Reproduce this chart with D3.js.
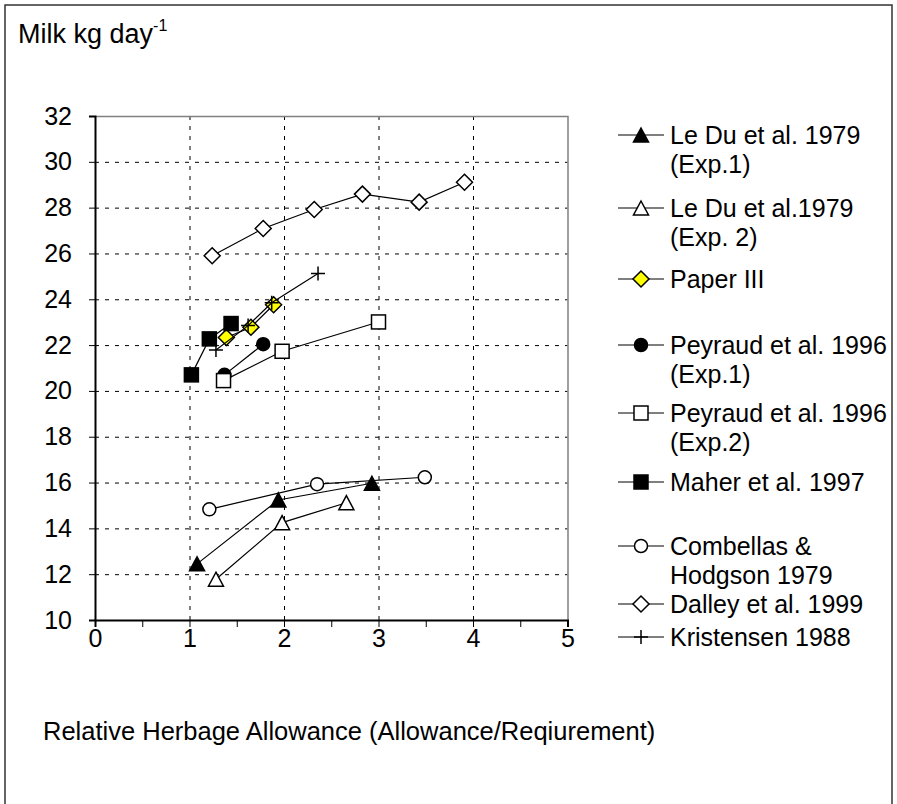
<!DOCTYPE html>
<html>
<head>
<meta charset="utf-8">
<script src="https://cdn.jsdelivr.net/npm/d3@7"></script>
<style>
  html, body { margin: 0; padding: 0; background: #fff; }
  svg { display: block; font-family: "Liberation Sans", Arial, sans-serif; }
</style>
</head>
<body>
<svg id="chart" width="897" height="804"></svg>
<script>
// Milk yield vs relative herbage allowance, several published studies
const xTicks = [0, 1, 2, 3, 4, 5];
const yTicks = [10, 12, 14, 16, 18, 20, 22, 24, 26, 28, 30, 32];

const leDu1X = [1.08, 1.94, 2.93];
const leDu1Y = [12.45, 15.24, 15.97];
const leDu2X = [1.28, 1.98, 2.66];
const leDu2Y = [11.78, 14.25, 15.12];
const paper3X = [1.39, 1.65, 1.89];
const paper3Y = [22.33, 22.78, 23.76];
const peyraud1X = [1.37, 1.78];
const peyraud1Y = [20.70, 22.04];
const peyraud2X = [1.36, 1.98, 3.00];
const peyraud2Y = [20.45, 21.73, 23.01];
const maherX = [1.02, 1.21, 1.44];
const maherY = [20.70, 22.27, 22.94];
const combellasX = [1.21, 2.35, 3.49];
const combellasY = [14.83, 15.93, 16.23];
const dalleyX = [1.24, 1.78, 2.32, 2.83, 3.43, 3.91];
const dalleyY = [25.90, 27.09, 27.92, 28.59, 28.24, 29.11];
const kristensenX = [1.28, 1.62, 1.87, 2.36];
const kristensenY = [21.79, 22.85, 23.85, 25.12];

const seriesNames = [
  ["Le Du et al. 1979", "(Exp.1)"],
  ["Le Du et al.1979", "(Exp. 2)"],
  ["Paper III"],
  ["Peyraud et al. 1996", "(Exp.1)"],
  ["Peyraud et al. 1996", "(Exp.2)"],
  ["Maher et al. 1997"],
  ["Combellas &", "Hodgson 1979"],
  ["Dalley et al. 1999"],
  ["Kristensen 1988"]
];

const zip = (xs, ys) => xs.map((x, i) => [x, ys[i]]);
const series = [
  { name: seriesNames[0], pts: zip(leDu1X, leDu1Y), shape: "triangle", fill: "#000" },
  { name: seriesNames[1], pts: zip(leDu2X, leDu2Y), shape: "triangle", fill: "#fff" },
  { name: seriesNames[2], pts: zip(paper3X, paper3Y), shape: "diamond", fill: "#ffff00" },
  { name: seriesNames[3], pts: zip(peyraud1X, peyraud1Y), shape: "circle", fill: "#000" },
  { name: seriesNames[4], pts: zip(peyraud2X, peyraud2Y), shape: "square", fill: "#fff" },
  { name: seriesNames[5], pts: zip(maherX, maherY), shape: "square", fill: "#000" },
  { name: seriesNames[6], pts: zip(combellasX, combellasY), shape: "circle", fill: "#fff" },
  { name: seriesNames[7], pts: zip(dalleyX, dalleyY), shape: "diamond", fill: "#fff" },
  { name: seriesNames[8], pts: zip(kristensenX, kristensenY), shape: "plus", fill: "none" }
];

const svg = d3.select("#chart");
const plot = { left: 95, right: 567.5, top: 116, bottom: 620 };

const x = d3.scaleLinear().domain([0, 5]).range([plot.left, plot.right]);
const y = d3.scaleLinear().domain([10, 32]).range([plot.bottom, plot.top]);

// outer frame
svg.append("rect")
  .attr("x", 5).attr("y", 5).attr("width", 887).attr("height", 830)
  .attr("fill", "none").attr("stroke", "#333").attr("stroke-width", 1.5);

// dashed grid
const grid = svg.append("g").attr("stroke", "#000").attr("stroke-width", 1)
  .attr("stroke-dasharray", "4,6");
grid.selectAll("line.h").data(yTicks.filter(v => v > 10 && v < 32)).join("line")
  .attr("x1", plot.left).attr("x2", plot.right)
  .attr("y1", d => y(d) + 0.5).attr("y2", d => y(d) + 0.5);
grid.selectAll("line.v").data(xTicks.filter(v => v > 0 && v < 5)).join("line")
  .attr("x1", d => x(d) + 0.5).attr("x2", d => x(d) + 0.5)
  .attr("y1", plot.top).attr("y2", plot.bottom);

// grey top/right border of plot
svg.append("path")
  .attr("d", `M${plot.left},${plot.top + 0.5}H${plot.right + 0.5}V${plot.bottom}`)
  .attr("fill", "none").attr("stroke", "#808080").attr("stroke-width", 1.5);

// axes
const yAxis = d3.axisLeft(y).tickValues(yTicks).tickSize(6).tickPadding(17);
const gy = svg.append("g").attr("transform", `translate(${plot.left},0)`).call(yAxis);
gy.select(".domain").attr("stroke", "#000").attr("stroke-width", 2);
gy.selectAll("text").attr("font-size", 25).attr("fill", "#000")
  .attr("font-family", "Liberation Sans, Arial, sans-serif");

const xMinor = d3.range(0, 5.01, 0.5);
const xAxis = d3.axisBottom(x).tickValues(xMinor).tickSize(7).tickPadding(2)
  .tickFormat(d => Number.isInteger(d) ? d : "");
const gx = svg.append("g").attr("transform", `translate(0,${plot.bottom})`).call(xAxis);
gx.select(".domain").attr("stroke", "#000").attr("stroke-width", 2);
gx.selectAll("text").attr("font-size", 25).attr("fill", "#000").attr("dy", "0.71em")
  .attr("font-family", "Liberation Sans, Arial, sans-serif");

// titles
const title = svg.append("text").attr("x", 18).attr("y", 43)
  .attr("font-size", 27).attr("fill", "#000");
title.append("tspan").text("Milk kg day");
title.append("tspan").attr("font-size", 16).attr("dy", -12).text("-1");

svg.append("text").attr("x", 43).attr("y", 740)
  .attr("font-size", 25.5).attr("fill", "#000")
  .text("Relative Herbage Allowance (Allowance/Reqiurement)");

// marker drawing
function marker(g, shape, fill, cx, cy) {
  const s = 7;
  if (shape === "square") {
    g.append("rect").attr("x", cx - s).attr("y", cy - s).attr("width", 2 * s).attr("height", 2 * s)
      .attr("fill", fill).attr("stroke", "#000").attr("stroke-width", 1.5);
  } else if (shape === "diamond") {
    const r = 8;
    g.append("path").attr("d", `M${cx},${cy - r}L${cx + r},${cy}L${cx},${cy + r}L${cx - r},${cy}Z`)
      .attr("fill", fill).attr("stroke", "#000").attr("stroke-width", 1.5);
  } else if (shape === "circle") {
    g.append("circle").attr("cx", cx).attr("cy", cy).attr("r", 6.5)
      .attr("fill", fill).attr("stroke", "#000").attr("stroke-width", 1.5);
  } else if (shape === "triangle") {
    g.append("path").attr("d", `M${cx},${cy - 7}L${cx + 7.5},${cy + 7}L${cx - 7.5},${cy + 7}Z`)
      .attr("fill", fill).attr("stroke", "#000").attr("stroke-width", 1.5);
  } else if (shape === "plus") {
    g.append("path").attr("d", `M${cx - 7},${cy}H${cx + 7}M${cx},${cy - 7}V${cy + 7}`)
      .attr("fill", "none").attr("stroke", "#000").attr("stroke-width", 1.5);
  }
}

const line = d3.line().x(d => x(d[0])).y(d => y(d[1]));
const dataG = svg.append("g");
series.forEach(s => {
  const g = dataG.append("g");
  g.append("path").attr("d", line(s.pts)).attr("fill", "none")
    .attr("stroke", "#000").attr("stroke-width", 1.2);
  s.pts.forEach(p => marker(g, s.shape, s.fill, x(p[0]), y(p[1])));
});

// legend
const legendY = [135, 208, 279, 345, 413, 482, 546, 604, 637];
const leg = svg.append("g").attr("font-size", 25).attr("fill", "#000");
series.forEach((s, i) => {
  const ly = legendY[i];
  const g = leg.append("g");
  g.append("line").attr("x1", 618).attr("x2", 664).attr("y1", ly).attr("y2", ly)
    .attr("stroke", "#000").attr("stroke-width", 1.2);
  marker(g, s.shape, s.fill, 641, ly);
  s.name.forEach((t, j) => {
    g.append("text").attr("x", 670).attr("y", ly + j * 29).attr("dy", "0.35em").text(t);
  });
});
</script>
</body>
</html>
